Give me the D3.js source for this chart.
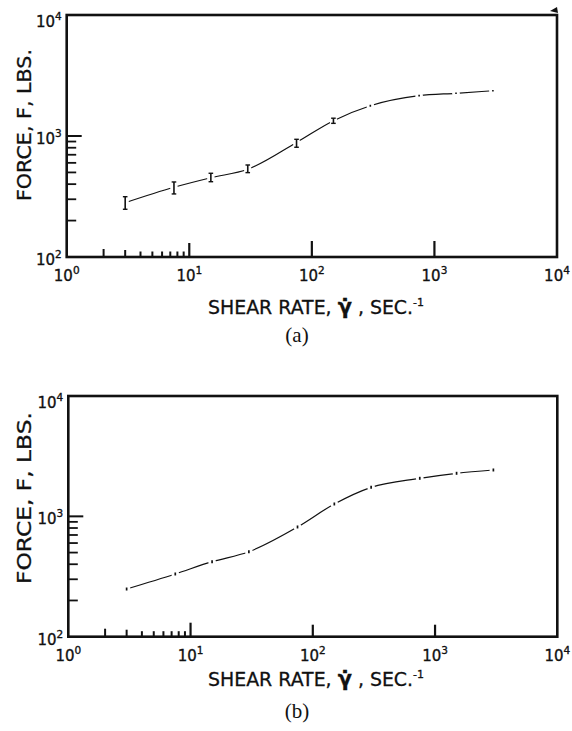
<!DOCTYPE html>
<html lang="en">
<head>
<meta charset="UTF-8">
<title>Force vs shear rate</title>
<script src="https://cdn.jsdelivr.net/npm/d3@7"></script>
<style>
  body { margin: 0; background: #fff; }
  svg text { fill: #111; font-family: "DejaVu Sans", sans-serif; }
</style>
</head>
<body>
<svg id="chart"></svg>
<script>
const width = 572, height = 731;

// shear rate, sec^-1 (same rates in both runs)
const shearRate = [3, 7.5, 15, 30, 75, 150, 300, 750, 1500, 3000];
// (a) force, lbs, with the scatter band
const forceA     = [281, 377, 452, 531, 884, 1337, 1778, 2153, 2254, 2366];
const forceALow  = [248, 332, 419, 498, 807, 1272, 1745, 2120, 2220, 2330];
const forceAHigh = [315, 417, 492, 576, 939, 1403, 1812, 2190, 2290, 2405];
// (b) force, lbs
const forceB = [249, 332, 420, 508, 816, 1267, 1743, 2071, 2279, 2428];

const xMajor = [1, 10, 100, 1000, 10000];
const xMinor = [2, 3, 4, 5, 6, 7, 8, 9];
const yMajor = [100, 1000, 10000];
const yMinor = [200, 300, 400, 500, 600, 700, 800, 900];
const panelLabels = ["(a)", "(b)"];

const svg = d3.select("#chart")
    .attr("width", width)
    .attr("height", height);

svg.append("rect").attr("width", width).attr("height", height).attr("fill", "#fff");

function supLabel(sel, v) {
  sel.text("10");
  sel.append("tspan")
    .attr("dy", -7)
    .attr("font-size", 10.5)
    .text(Math.round(Math.log10(v)));
}

function panel(p) {
  const x = d3.scaleLog().domain([1, 10000]).range([p.left, p.right]);
  const y = d3.scaleLog().domain([100, 10000]).range([p.bottom, p.top]);
  const g = svg.append("g");

  // frame
  g.append("rect")
    .attr("x", p.left).attr("y", p.top)
    .attr("width", p.right - p.left).attr("height", p.bottom - p.top)
    .attr("fill", "none").attr("stroke", "#111").attr("stroke-width", 2.6);

  // ticks on the bottom edge, pointing in
  g.selectAll(".xmin").data(xMinor).join("line")
    .attr("x1", d => x(d)).attr("x2", d => x(d))
    .attr("y1", p.bottom).attr("y2", d => p.bottom - (d == 2 ? 8 : d == 3 ? 7 : 5.5))
    .attr("stroke", "#111").attr("stroke-width", 2);
  g.selectAll(".xmaj").data(xMajor.slice(1, -1)).join("line")
    .attr("x1", d => x(d)).attr("x2", d => x(d))
    .attr("y1", p.bottom).attr("y2", d => p.bottom - (d == 10 ? 14 : p.majorLen))
    .attr("stroke", "#111").attr("stroke-width", 2.2);

  // ticks on the left edge
  g.selectAll(".ymin").data(yMinor).join("line")
    .attr("y1", d => y(d)).attr("y2", d => y(d))
    .attr("x1", p.left).attr("x2", p.left + 9.5)
    .attr("stroke", "#111").attr("stroke-width", 1.8);
  g.append("line")
    .attr("y1", y(1000)).attr("y2", y(1000))
    .attr("x1", p.left).attr("x2", p.left + 15)
    .attr("stroke", "#111").attr("stroke-width", 2);

  // tick labels
  g.selectAll(".xl").data(xMajor).join("text")
    .attr("x", d => x(d)).attr("y", p.bottom + 24)
    .attr("text-anchor", "middle").attr("font-size", 15)
    .attr("stroke", "#111").attr("stroke-width", 0.35)
    .each(function(d) { supLabel(d3.select(this), d); });
  g.selectAll(".yl").data(yMajor).join("text")
    .attr("x", p.left - 5).attr("y", d => y(d) + (d == 10000 ? 12 : 8))
    .attr("text-anchor", "end").attr("font-size", 15)
    .attr("stroke", "#111").attr("stroke-width", 0.35)
    .each(function(d) { supLabel(d3.select(this), d); });

  // axis titles
  const xt = g.append("text")
    .attr("x", 316).attr("y", p.titleY)
    .attr("text-anchor", "middle").attr("font-size", 19)
    .attr("stroke", "#111").attr("stroke-width", 0.3)
    .attr("textLength", 216).attr("lengthAdjust", "spacingAndGlyphs");
  xt.append("tspan").text("SHEAR RATE, ");
  xt.append("tspan").attr("font-weight", "bold").attr("font-size", 21).text("\u03B3\u0307");
  xt.append("tspan").text(" , SEC.");
  xt.append("tspan").attr("dy", -8).attr("font-size", 11).text("-1");

  g.append("text")
    .attr("transform", `translate(31,${p.yTitleY}) rotate(-90)`)
    .attr("text-anchor", "middle").attr("font-size", 19)
    .attr("stroke", "#111").attr("stroke-width", 0.3)
    .attr("textLength", p.yTitleLen).attr("lengthAdjust", "spacingAndGlyphs")
    .text("FORCE, F, LBS.");

  g.append("text")
    .attr("x", 297).attr("y", p.labelY)
    .attr("text-anchor", "middle")
    .style("font-family", "'Liberation Serif', serif").attr("font-size", 21)
    .text(p.label);

  // curve with small breaks at each reading
  const pts = shearRate.map((s, i) => [x(s), y(p.force[i])]);
  g.append("path")
    .attr("d", d3.line().curve(d3.curveMonotoneX)(pts))
    .attr("fill", "none").attr("stroke", "#111").attr("stroke-width", 1.2);
  g.selectAll(".gap").data(pts).join("circle")
    .attr("cx", d => d[0]).attr("cy", d => d[1]).attr("r", 3.8)
    .attr("fill", "#fff");

  if (p.low) {
    const bars = g.selectAll(".bar").data(shearRate).join("g");
    bars.append("line")
      .attr("x1", d => x(d)).attr("x2", d => x(d))
      .attr("y1", (d, i) => y(p.low[i])).attr("y2", (d, i) => y(p.high[i]))
      .attr("stroke", "#111").attr("stroke-width", 1.6);
    bars.filter((d, i) => y(p.low[i]) - y(p.high[i]) > 4).each(function(d, i) {
      const b = d3.select(this);
      [p.low[i], p.high[i]].forEach(v => {
        b.append("line")
          .attr("x1", x(d) - 2.3).attr("x2", x(d) + 2.3)
          .attr("y1", y(v)).attr("y2", y(v))
          .attr("stroke", "#111").attr("stroke-width", 1.4);
      });
    });
  } else {
    g.selectAll(".mk").data(pts).join("line")
      .attr("x1", d => d[0]).attr("x2", d => d[0])
      .attr("y1", d => d[1] - 1.5).attr("y2", d => d[1] + 1.5)
      .attr("stroke", "#111").attr("stroke-width", 1.7);
  }
  return g;
}

const ga = panel({ left: 66.7, right: 557, top: 15, bottom: 257, majorLen: 16,
  force: forceA, low: forceALow, high: forceAHigh,
  titleY: 314, labelY: 342, yTitleY: 125, yTitleLen: 152, label: panelLabels[0] });
panel({ left: 68.3, right: 557.3, top: 396, bottom: 636.7, majorLen: 12,
  force: forceB, titleY: 686, labelY: 718, yTitleY: 498, yTitleLen: 172, label: panelLabels[1] });

// small ink mark at the top right corner of (a)
ga.append("path")
  .attr("d", "M550,11 L557,7 L558,13 Z")
  .attr("fill", "#111");
</script>
</body>
</html>
